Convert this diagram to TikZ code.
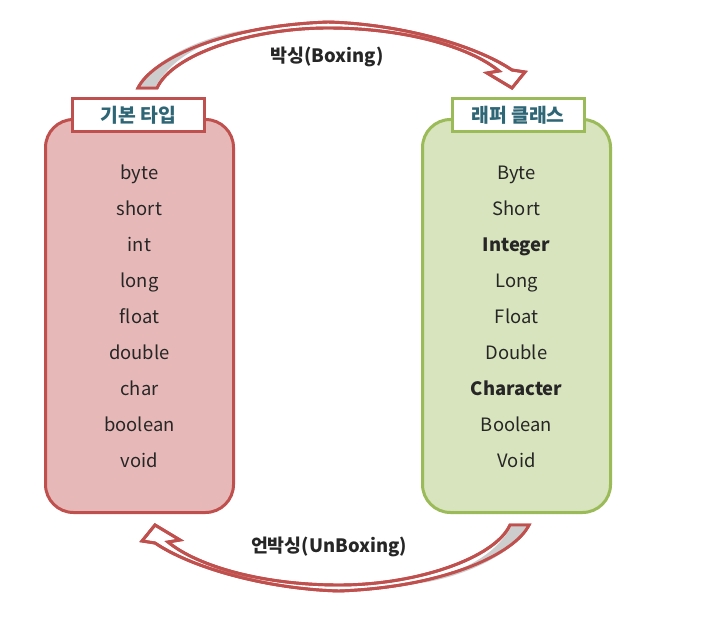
\documentclass[tikz,border=0pt]{standalone}
\usepackage{fontspec}
\setmainfont{Noto Sans CJK KR}
\usetikzlibrary{positioning}

\definecolor{boxred}{HTML}{C0504D}
\definecolor{boxredfill}{HTML}{E6B9B8}
\definecolor{boxgreen}{HTML}{9BBB59}
\definecolor{boxgreenfill}{HTML}{D7E4BD}
\definecolor{titleteal}{HTML}{2F6676}
\definecolor{itemtext}{HTML}{262626}
\definecolor{tailgray}{HTML}{CDCDCD}

% block arrow (curved), drawn in pixel units
\tikzset{
  boxarrow/.pic={
    \filldraw[fill=white, draw=boxred, line width=2.2pt, line join=miter]
      (138,88) .. controls (152,60) and (220,26) .. (328,22)
      .. controls (400,24) and (475,45) .. (512,70)
      -- (525,72) -- (512,88) -- (487,73) -- (499,71)
      .. controls (470,47) and (405,28) .. (328,28)
      .. controls (250,28) and (172,55) .. (157,88) -- cycle;
    \fill[tailgray]
      (139.5,87) .. controls (153,60) and (198,38) .. (245,30)
      .. controls (200,43) and (170,60) .. (155.5,87) -- cycle;
    \draw[boxred, line width=2.2pt, line join=miter]
      (138,88) .. controls (152,60) and (220,26) .. (328,22)
      .. controls (400,24) and (475,45) .. (512,70)
      -- (525,72) -- (512,88) -- (487,73) -- (499,71)
      .. controls (470,47) and (405,28) .. (328,28)
      .. controls (250,28) and (172,55) .. (157,88) -- cycle;
  }
}

\begin{document}
\begin{tikzpicture}[x=0.75pt, y=-0.75pt,
  typebox/.style={rectangle, rounded corners=21pt, line width=2.25pt,
    minimum width=141pt, minimum height=294.75pt},
  titlebox/.style={rectangle, fill=white, line width=2.25pt, text=titleteal,
    minimum width=99pt, minimum height=24.75pt, inner sep=0pt,
    font=\fontsize{14.5pt}{17pt}\selectfont\bfseries},
  item/.style={text=itemtext, inner sep=0pt, text height=0.75em, text depth=0.22em,
    font=\fontsize{13.8pt}{16pt}\selectfont},
  arrowlabel/.style={text=itemtext, inner sep=1pt,
    font=\fontsize{13.8pt}{16pt}\selectfont\bfseries}]

  \useasboundingbox (0,0) rectangle (712,623);

  % 1. 박싱 / 언박싱 화살표
  \pic at (0,0) {boxarrow};
  \pic[rotate=180] at (667,613) {boxarrow};
  \node[arrowlabel] (boxing) at (327,57) {박싱(Boxing)};
  \node[arrowlabel] (unboxing) at (329,547) {언박싱(UnBoxing)};

  % 2. 기본 타입
  \node[typebox, draw=boxred, fill=boxredfill] (basic) at (139.5,316) {};
  \node[titlebox, draw=boxred] (basictitle) at (138.5,115) {기본 타입};
  \foreach \t [count=\i from 0] in {byte,short,int,long,float,double,char,boolean,void}
    \node[item] (basic\i) at (139.5,176+36*\i) {\t};

  % 3. 래퍼 클래스
  \node[typebox, draw=boxgreen, fill=boxgreenfill] (wrapper) at (516.5,316) {};
  \node[titlebox, draw=boxgreen] (wrappertitle) at (518,115) {래퍼 클래스};
  \foreach \t [count=\i from 0] in {Byte,Short,{\bfseries Integer},Long,Float,Double,{\bfseries Character},Boolean,Void}
    \node[item] (wrapper\i) at (516.5,176+36*\i) {\t};
\end{tikzpicture}
\end{document}
